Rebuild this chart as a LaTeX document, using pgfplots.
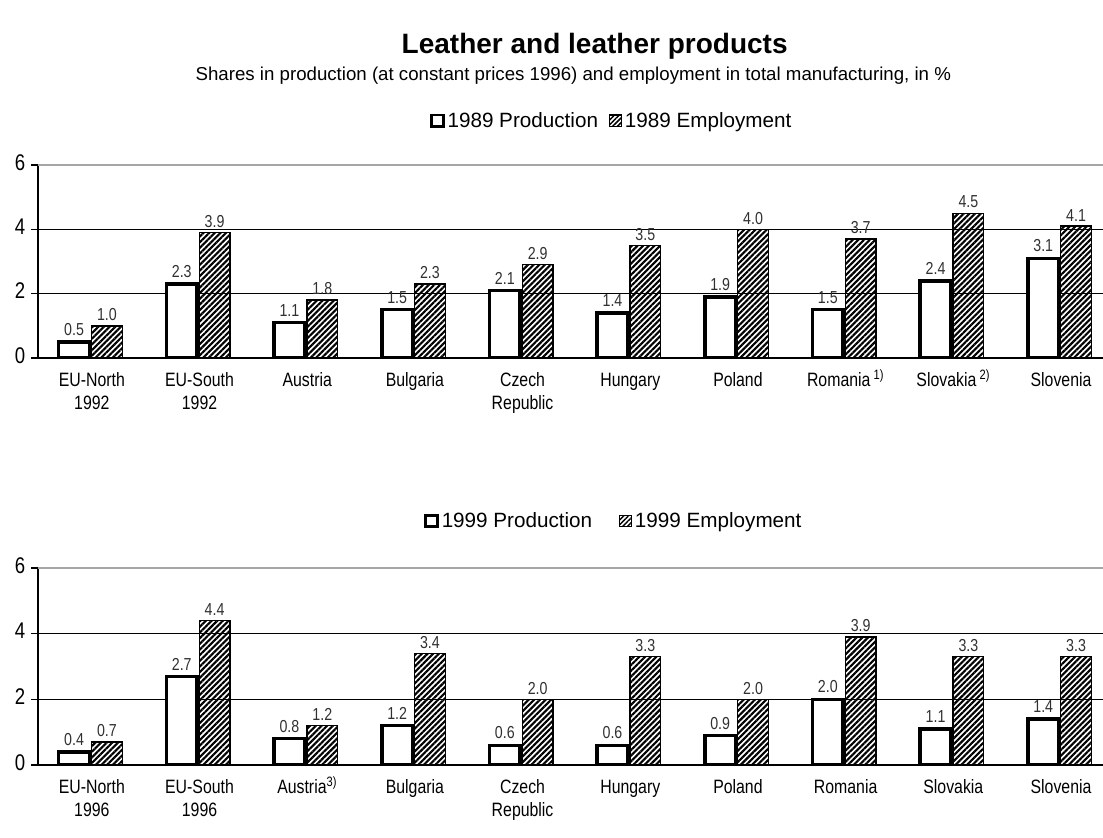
\documentclass[border=0pt]{standalone}
\usepackage{pgfplots}
\pgfplotsset{compat=1.18}
\usetikzlibrary{patterns.meta}
\usepackage{fontspec}
\setmainfont{Liberation Sans}
\newfontfamily\narrow[FakeStretch=0.82]{Liberation Sans}
\definecolor{lblgray}{HTML}{303030}
\pgfplotsset{
  /pgf/number format/assume math mode=true,
  panel/.style={
    scale only axis,
    width=798.75pt,
    xmin=-0.5, xmax=9.39,
    ymin=0, ymax=6,
    ytick={0,2,4}, extra y ticks={6},
    extra y tick style={grid style={gray!70, line width=1.4pt}},
    ymajorgrids,
    grid style={black, line width=0.9pt},
    axis x line*=bottom, axis y line*=left,
    axis line style={black, line width=1.3pt},
    tick align=outside,
    major tick length=5pt,
    ytick style={black, line width=1pt},
    xtick={0,...,9},
    xtick style={draw=none},
    minor xtick={-0.5,0.5,...,9.5},
    minor tick length=6pt,
    minor x tick style={black, line width=1pt},
    typeset ticklabels with strut,
    yticklabel style={font=\narrow\fontsize{17}{19}\selectfont, xshift=-1pt},
    xticklabel style={font=\narrow\fontsize{14.5}{17}\selectfont, align=center, yshift=-1pt},
    ybar, bar width=0.285,
    nodes near coords,
    nodes near coords style={font=\narrow\fontsize{13}{15}\selectfont, text=lblgray,
      /pgf/number format/.cd, fixed, precision=1, fixed zerofill, assume math mode=true},
    legend columns=2,
    legend cell align=left,
    legend style={draw=none, fill=none, anchor=center, font=\fontsize{15.5}{18}\selectfont,
      /tikz/every even column/.append style={column sep=6pt}},
    area legend,
  },
  prod/.style={draw=black, line width=2.6pt, fill=white, bar shift=-0.165,
    legend image code/.code={\draw[black, line width=2.2pt, fill=white] (0pt,-4pt) rectangle (9pt,4.5pt);}},
  emp/.style={draw=black, line width=1pt, pattern={Lines[angle=45,distance=3pt,line width=1.6pt]}, bar shift=0.14,
    legend image code/.code={\draw[black, line width=1pt, pattern={Lines[angle=45,distance=2.5pt,line width=1.1pt]}] (0pt,-4pt) rectangle (9pt,4.5pt);}},
}
\begin{document}
\begin{tikzpicture}
\useasboundingbox (0,0) rectangle (827.25pt,-628.5pt);
\node[font=\bfseries\fontsize{21}{24}\selectfont] at (446pt,-35pt) {Leather and leather products};
\node[font=\fontsize{14}{16}\selectfont] at (430pt,-56.5pt) {Shares in production (at constant prices 1996) and employment in total manufacturing, in \%};

\begin{axis}[panel, height=144.75pt, at={(28.5pt,-268.5pt)}, anchor=south west,
  legend style={at={(0.539,1)}, yshift=33pt},
  xticklabels={{EU-North\\1992},{EU-South\\1992},Austria,Bulgaria,{Czech\\Republic},Hungary,Poland,{Romania\,\smash{\textsuperscript{1)}}},{Slovakia\,\smash{\textsuperscript{2)}}},Slovenia}]
\addplot[prod] coordinates {(0,0.5) (1,2.3) (2,1.1) (3,1.5) (4,2.1) (5,1.4) (6,1.9) (7,1.5) (8,2.4) (9,3.1)};
\addplot[emp] coordinates {(0,1.0) (1,3.9) (2,1.8) (3,2.3) (4,2.9) (5,3.5) (6,4.0) (7,3.7) (8,4.5) (9,4.1)};
\legend{1989 Production, 1989 Employment}
\end{axis}

\begin{axis}[panel, height=147.75pt, at={(28.5pt,-573.75pt)}, anchor=south west,
  legend style={at={(0.541,1)}, yshift=35pt, /tikz/every even column/.append style={column sep=18pt}},
  xticklabels={{EU-North\\1996},{EU-South\\1996},Austria\smash{\textsuperscript{3)}},Bulgaria,{Czech\\Republic},Hungary,Poland,Romania,Slovakia,Slovenia}]
\addplot[prod] coordinates {(0,0.4) (1,2.7) (2,0.8) (3,1.2) (4,0.6) (5,0.6) (6,0.9) (7,2.0) (8,1.1) (9,1.4)};
\addplot[emp] coordinates {(0,0.7) (1,4.4) (2,1.2) (3,3.4) (4,2.0) (5,3.3) (6,2.0) (7,3.9) (8,3.3) (9,3.3)};
\legend{1999 Production, 1999 Employment}
\end{axis}
\end{tikzpicture}
\end{document}
